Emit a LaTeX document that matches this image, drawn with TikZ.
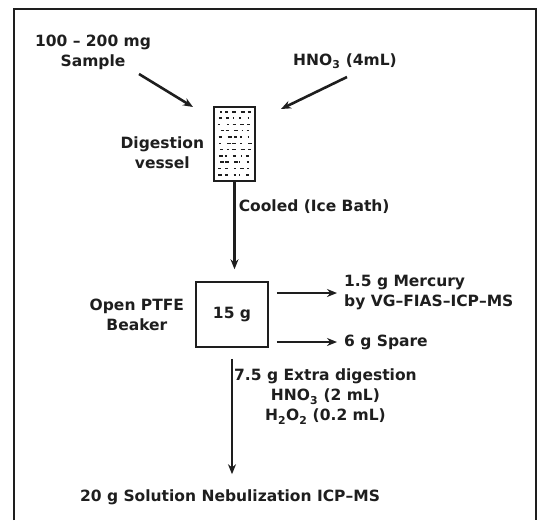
\documentclass[tikz,border=0pt]{standalone}
\usepackage{fontspec}
\setmainfont{DejaVu Sans}
\usepackage{tikz}
\usetikzlibrary{arrows.meta,positioning,calc}
\definecolor{ink}{RGB}{30,30,30}

\tikzset{
  lbl/.style={font=\bfseries\fontsize{15.5}{20}\selectfont,text=ink,inner sep=1pt,align=center},
  flow/.style={ink,line width=2.6pt,-{Stealth[length=10pt,width=8pt]}},
  box/.style={draw=ink,line width=1.5pt,minimum width=72pt,minimum height=65pt}
}

\begin{document}
\begin{tikzpicture}[x=1pt,y=-1pt]
    \useasboundingbox (0,0) rectangle (538,520);
    \draw[ink,line width=1.4pt] (14,520)--(14,9)--(536,9)--(536,520);
    % inputs
    \node[lbl] (sample) at (93,52) {100 -- 200 mg\\Sample};
    \node[lbl] (hno) at (345,61) {HNO\textsubscript{3} (4mL)};
    \coordinate (sin) at (139,74);
    \coordinate (sout) at (193,107);
    \coordinate (hin) at (347,77);
    \coordinate (hout) at (281,109);
    % digestion vessel with stipple
    \node[draw=ink,line width=1.5pt,minimum width=41pt,minimum height=74pt,inner sep=0pt] (vessel) at (234.5,144) {};
    \pgfmathsetseed{7}
    \foreach \i in {0,...,10}
      \foreach \j in {0,...,4}{
        \pgfmathsetmacro{\dx}{rnd*3}
        \pgfmathsetmacro{\ln}{1.2+rnd*3}
        \draw[ink,line width=1.5pt] ($(vessel.north west)+(4.5+\j*7+\dx,5.5+\i*6.3)$) -- ++(\ln,0);
      }
    \node[lbl,left=8pt of vessel,yshift=-9pt] (vlabel) {Digestion\\vessel};
    \draw[flow] (sin) -- (sout);
    \draw[flow] (hin) -- (hout);
    % beaker
    \node[box,lbl] (beaker) at (232,314.5) {15 g};
    \node[lbl,left=10pt of beaker] (blabel) {Open PTFE\\Beaker};
    \draw[flow,shorten >=12pt] (vessel.south) -- (vessel.south |- beaker.north) node[lbl,pos=0.25,anchor=west,xshift=2pt] (cool) {Cooled (Ice Bath)};
    % outputs
    \node[lbl,anchor=west,align=left] (mercury) at (343,293) {1.5 g Mercury\\by VG--FIAS--ICP--MS};
    \node[lbl,anchor=west] (spare) at (343,342) {6 g Spare};
    \draw[flow,shorten <=8pt,shorten >=6pt] (beaker.east |- mercury.west) -- (mercury.west);
    \draw[flow,shorten <=8pt,shorten >=6pt] (beaker.east |- spare.west) -- (spare.west);
    % final step
    \node[lbl] (final) at (230,497) {20 g Solution Nebulization ICP--MS};
    \draw[flow,shorten <=11pt,shorten >=14pt] (beaker.south) -- (beaker.south |- final.north);
    \node[lbl,anchor=north west] (extra) at (233,368) {7.5 g Extra digestion\\HNO\textsubscript{3} (2 mL)\\H\textsubscript{2}O\textsubscript{2} (0.2 mL)};
  \end{tikzpicture}
\end{document}
